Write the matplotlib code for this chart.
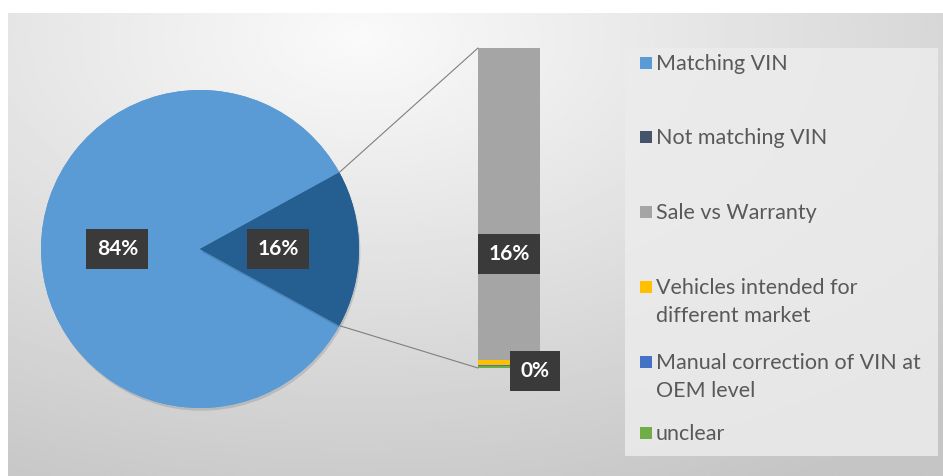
import numpy as np
import matplotlib.pyplot as plt
from matplotlib.patches import Rectangle, ConnectionPatch
import matplotlib.patheffects as pe

# Data
pie_labels = ['Matching VIN', 'Not matching VIN']
pie_values = [84, 16]
bar_labels = ['Sale vs Warranty', 'Vehicles intended for\ndifferent market',
              'Manual correction of VIN at\nOEM level', 'unclear']
bar_values = [15.6, 0.25, 0.05, 0.1]

pie_colors = ['#5B9BD5', '#255E91']
legend_colors = ['#5B9BD5', '#44546A', '#A5A5A5', '#FFC000', '#4472C4', '#70AD47']
bar_colors = ['#A5A5A5', '#FFC000', '#4472C4', '#70AD47']

FONT = 'Lato'
W, H = 943, 476
fig = plt.figure(figsize=(W / 100, H / 100), dpi=100)
fig.patch.set_facecolor('white')

# background gradient
bg = fig.add_axes([8 / W, 0, 1 - 8 / W, 1 - 13 / H])
yy, xx = np.mgrid[0:200, 0:400]
d = np.sqrt(((xx - 150) / 400) ** 2 + ((yy - 10) / 230) ** 2)
shade = np.clip(0.98 - 0.22 * d, 0.77, 0.98)
bg.imshow(shade, cmap='gray', vmin=0, vmax=1, aspect='auto', extent=[0, 1, 0, 1])
bg.set_axis_off()

# legend panel
fig.patches.append(Rectangle((625 / W, 1 - 456 / H), 313 / W, 408 / H,
                             transform=fig.transFigure, facecolor='#ececec',
                             edgecolor='none', alpha=0.85, zorder=1))

label_box = dict(boxstyle='square,pad=0.5', facecolor='#3a3a3a', edgecolor='none')
label_kw = dict(ha='center', va='center', color='white', fontsize=15,
                fontweight='bold', family=FONT, bbox=label_box)

# pie
cx, cy, r = 200, 249, 159
pax = fig.add_axes([(cx - r) / W, 1 - (cy + r) / H, 2 * r / W, 2 * r / H])
start = 360 * pie_values[1] / 100 / 2
wedges, _ = pax.pie(pie_values, colors=pie_colors, startangle=start,
                    counterclock=True, radius=1,
                    wedgeprops=dict(linewidth=0))
pax.set_xlim(-1, 1)
pax.set_ylim(-1, 1)
pax.set_aspect('equal')
for w in wedges:
    w.set_path_effects([pe.withSimplePatchShadow(offset=(1, -2), alpha=0.15), pe.Normal()])

pie_label_pos = [(-0.52, 0.0), (0.49, 0.0)]
for val, (lx, ly) in zip(pie_values, pie_label_pos):
    pax.text(lx, ly, f'{val}%', **label_kw)

# stacked bar
bx0, bx1, by0, by1 = 478, 540, 48, 368
bax = fig.add_axes([bx0 / W, 1 - by1 / H, (bx1 - bx0) / W, (by1 - by0) / H])
bottom = 0
for v, c in zip(bar_values, bar_colors):
    bax.bar(0, v, bottom=bottom, width=1, color=c, linewidth=0)
    bottom += v
bax.set_xlim(-0.5, 0.5)
bax.set_ylim(bottom, 0)
bax.set_axis_off()

bax.text(0, bar_values[0] * 0.66, f'{round(bar_values[0])}%', **label_kw)
bax.text(0.42, bottom + 0.15, '0%', zorder=5, **label_kw)

# connector lines
theta = np.deg2rad(start)
for sgn, yb in [(1, 0), (-1, bottom)]:
    con = ConnectionPatch(xyA=(np.cos(theta), sgn * np.sin(theta)), coordsA=pax.transData,
                          xyB=(-0.5, yb), coordsB=bax.transData,
                          color='#7f7f7f', linewidth=0.8)
    fig.add_artist(con)

# legend
legend_names = pie_labels + bar_labels
legend_y = [63, 137, 212, 287, 362, 433]
for name, col, y in zip(legend_names, legend_colors, legend_y):
    fig.patches.append(Rectangle((640 / W, 1 - (y + 6) / H), 12 / W, 12 / H,
                                 transform=fig.transFigure, facecolor=col,
                                 edgecolor='none', zorder=3))
    for i, line in enumerate(name.split('\n')):
        fig.text(656 / W, 1 - (y + 7 + 28 * i) / H, line, ha='left', va='baseline',
                 fontsize=15.5, color='#595959', family=FONT)

fig.savefig('out.png', dpi=100)
